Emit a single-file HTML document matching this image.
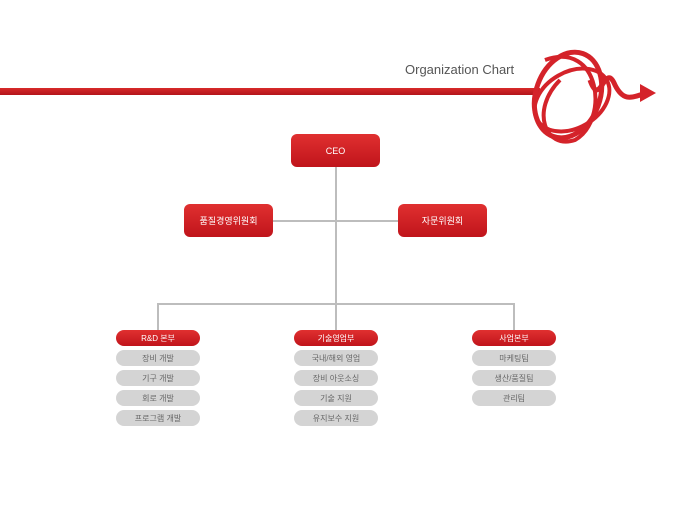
<!DOCTYPE html>
<html><head><meta charset="utf-8"><style>
body{margin:0;width:680px;height:510px;background:#fff;position:relative;overflow:hidden;font-family:"Liberation Sans","Noto Sans CJK KR",sans-serif}
.b{position:absolute;display:flex;align-items:center;justify-content:center;color:#fff;font-size:9px}
.r{background:linear-gradient(#e03030,#c0141b);border-radius:6px}
.p{height:16px;width:84px;border-radius:8px;font-size:8px}
.g{background:#d4d4d4;color:#666}
.l{position:absolute;background:#bdbdbd}
</style></head><body>
<div style="position:absolute;left:0;top:88px;width:540px;height:7px;background:linear-gradient(#d82a2a,#b3141a)"></div>
<div style="position:absolute;left:405px;top:62px;font-size:13px;color:#555">Organization Chart</div>
<svg style="position:absolute;left:0;top:0" width="680" height="510">
<g fill="none" stroke="#d4232a" stroke-width="5">
<ellipse cx="568" cy="95" rx="32" ry="44" transform="rotate(20 568 95)"/>
<ellipse cx="572" cy="100" rx="40" ry="28" transform="rotate(-30 572 100)" stroke-width="4"/>
<path d="M545 60 C600 40 610 120 575 140 C545 150 530 110 560 80" stroke-width="4"/>
<path d="M590 80 C600 110 605 60 615 85 C625 105 635 95 648 93" stroke-width="5"/>
</g>
<polygon points="640,84 656,93 640,102" fill="#d4232a"/>
</svg>
<div class="l" style="left:335px;top:166px;width:2px;height:138px"></div>
<div class="l" style="left:273px;top:220px;width:125px;height:2px"></div>
<div class="l" style="left:157px;top:303px;width:358px;height:2px"></div>
<div class="l" style="left:157px;top:303px;width:2px;height:27px"></div>
<div class="l" style="left:335px;top:303px;width:2px;height:27px"></div>
<div class="l" style="left:513px;top:303px;width:2px;height:27px"></div>
<div class="b r" style="left:291px;top:134px;width:89px;height:33px">CEO</div>
<div class="b r" style="left:184px;top:204px;width:89px;height:33px">품질경영위원회</div>
<div class="b r" style="left:398px;top:204px;width:89px;height:33px">자문위원회</div>
<div class="b r p" style="left:116px;top:330px">R&amp;D 본부</div>
<div class="b g p" style="left:116px;top:350px">장비 개발</div>
<div class="b g p" style="left:116px;top:370px">기구 개발</div>
<div class="b g p" style="left:116px;top:390px">회로 개발</div>
<div class="b g p" style="left:116px;top:410px">프로그램 개발</div>
<div class="b r p" style="left:294px;top:330px">기술영업부</div>
<div class="b g p" style="left:294px;top:350px">국내/해외 영업</div>
<div class="b g p" style="left:294px;top:370px">장비 아웃소싱</div>
<div class="b g p" style="left:294px;top:390px">기술 지원</div>
<div class="b g p" style="left:294px;top:410px">유지보수 지원</div>
<div class="b r p" style="left:472px;top:330px">사업본부</div>
<div class="b g p" style="left:472px;top:350px">마케팅팀</div>
<div class="b g p" style="left:472px;top:370px">생산/품질팀</div>
<div class="b g p" style="left:472px;top:390px">관리팀</div>
</body></html>
